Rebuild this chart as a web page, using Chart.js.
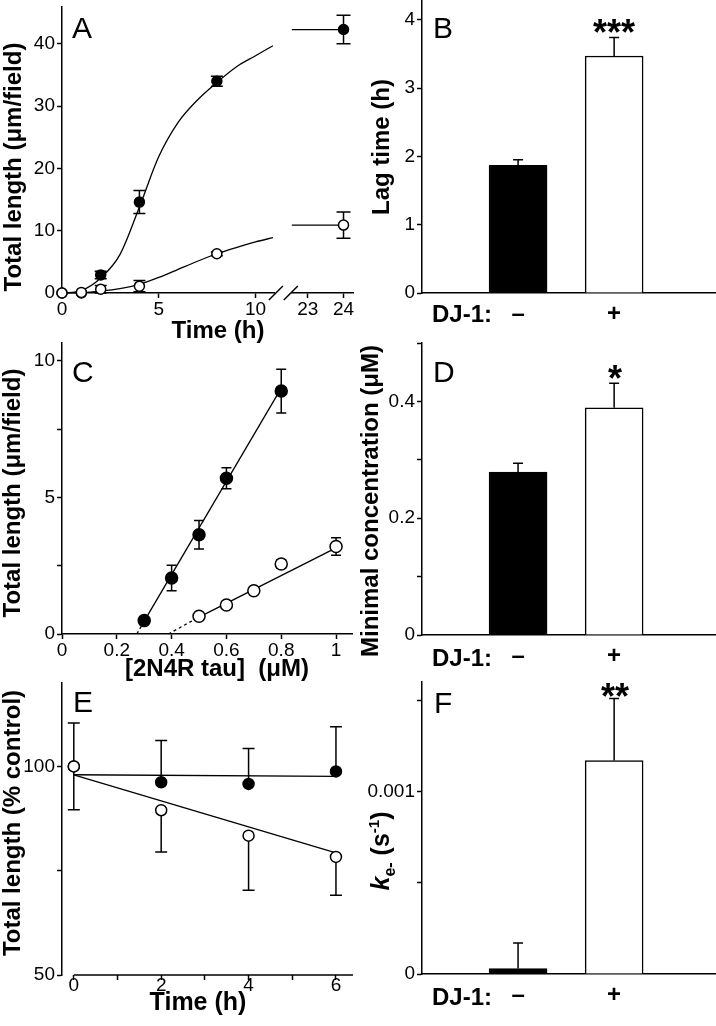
<!DOCTYPE html>
<html>
<head>
<meta charset="utf-8">
<script src="https://cdn.jsdelivr.net/npm/chart.js@4.4.0/dist/chart.umd.min.js"></script>
<style>
  html, body { margin: 0; padding: 0; background: #fff; }
  #page { position: relative; width: 716px; height: 1026px; overflow: hidden; background: #fff; }
  canvas { position: absolute; }
</style>
</head>
<body>
<div id="page">
  <canvas id="panelA" width="360" height="345" style="left:0px;top:0px"></canvas>
  <canvas id="panelB" width="356" height="345" style="left:360px;top:0px"></canvas>
  <canvas id="panelC" width="360" height="360" style="left:0px;top:330px"></canvas>
  <canvas id="panelD" width="356" height="360" style="left:360px;top:330px"></canvas>
  <canvas id="panelE" width="360" height="366" style="left:0px;top:660px"></canvas>
  <canvas id="panelF" width="356" height="366" style="left:360px;top:660px"></canvas>
</div>
<script>
// ---- A: polymerization time course (filled = no DJ-1, open = + DJ-1)
const timeA = [0, 1, 2, 4, 8];
const lenNoDJ = [0, 0, 2.9, 14.6, 34.0];
const errNoDJ = [0, 0, 0.6, 1.85, 0.8];
const lenDJ = [0, 0.1, 0.6, 1.1, 6.3];
const errDJ = [0, 0, 0.6, 0.9, 0.3];
const timeLate = [24];
const lenNoDJLate = [42.3];
const errNoDJLate = [2.3];
const lenDJLate = [10.9];
const errDJLate = [2.1];
// fitted curves
const fitTimeA = [0, 1, 2, 3, 4, 5, 6, 7, 8, 9, 10, 10.9];
const fitNoDJ = [0, 0.4, 2.4, 6.2, 13.8, 21.9, 27.4, 31.0, 33.8, 36.3, 38.1, 39.7];
const fitDJ = [0, 0.05, 0.3, 0.7, 1.4, 2.5, 3.8, 5.1, 6.3, 7.3, 8.2, 8.9];
const fitTimeLate = [22.55, 24];
const fitNoDJLate = [42.3, 42.3];
const fitDJLate = [10.9, 10.9];

// ---- B, D, F: bar pairs (DJ-1 - / +)
const barPos = [1, 2];
const djSigns = ['–', '+'];
const lagTime = [1.87, 3.47];
const lagErr = [0.08, 0.27];
const minConc = [0.279, 0.389];
const minConcErr = [0.015, 0.042];
const kOff = [0.00003, 0.00117];
const kOffErr = [0.00014, 0.00034];

// ---- C: length vs tau concentration
const tauNoDJ = [0.3, 0.4, 0.5, 0.6, 0.8];
const lenTauNoDJ = [0.49, 2.05, 3.63, 5.70, 8.89];
const errTauNoDJ = [0, 0.47, 0.52, 0.38, 0.8];
const tauDJ = [0.5, 0.6, 0.7, 0.8, 1.0];
const lenTauDJ = [0.65, 1.06, 1.58, 2.56, 3.2];
const errTauDJ = [0, 0, 0.1, 0.15, 0.32];
const fitTauNoDJ = [0.273, 0.3, 0.8];
const fitLenTauNoDJ = [0, 0.47, 9.0];
const fitTauDJ = [0.388, 0.5, 1.0];
const fitLenTauDJ = [0, 0.62, 3.15];

// ---- E: depolymerization (% control)
const timeE = [0, 2, 4, 6];
const pctNoDJ = [100, 96.2, 95.8, 98.8];
const pctNoDJErr = [10.4, 10.0, 8.5, 10.7];
const pctDJ = [100, 89.5, 83.4, 78.3];
const pctDJErr = [10.4, 10.0, 13.1, 9.2];
const fitTimeE = [0, 6];
const fitPctNoDJ = [98.0, 97.6];
const fitPctDJ = [98.0, 79.3];

// ---- tick values
const ticksAy = [0, 10, 20, 30, 40];
const ticksAx = [0, 5, 10];
const ticksAx2 = [23, 24];
const ticksBy = [0, 1, 2, 3, 4];
const ticksCx = [0, 0.2, 0.4, 0.6, 0.8, 1];
const ticksCy = [0, 2.5, 5, 7.5, 10];
const labelsCy = [0, 5, 10];
const ticksDy = [0, 0.1, 0.2, 0.3, 0.4, 0.5];
const labelsDy = [0, 0.2, 0.4];
const ticksEx = [0, 1, 2, 3, 4, 5, 6];
const labelsEx = [0, 2, 4, 6];
const ticksEy = [50, 75, 100];
const labelsEy = [50, 100];
const ticksFy = [0, 0.0005, 0.001, 0.0015];
const labelsFy = [0, 0.001];

const FAMILY = "'Liberation Sans', Arial, Helvetica, sans-serif";
Chart.defaults.font.family = FAMILY;
Chart.defaults.color = '#000';
const BLACK = '#000';
const F_TITLE = 'bold 24px ' + FAMILY;
const F_LETTER = '30px ' + FAMILY;
const F_STAR = 'bold 36px ' + FAMILY;

const toXY = (xs, ys) => xs.map((x, i) => ({ x: x, y: ys[i] }));

function zeroPad(s) { s.paddingLeft = 0; s.paddingRight = 0; s.paddingTop = 0; s.paddingBottom = 0; }

function yAxis(min, max, ticks, labeled) {
  return {
    type: 'linear', position: 'left', min: min, max: max,
    afterBuildTicks: s => { s.ticks = ticks.map(v => ({ value: v })); },
    afterFit: s => { s.width = 62; zeroPad(s); },
    ticks: { autoSkip: false, padding: 2, font: { size: 19 }, callback: v => labeled.includes(v) ? String(v) : '' },
    grid: { drawOnChartArea: false, tickLength: 5, tickWidth: 1.5, tickColor: BLACK },
    border: { color: BLACK, width: 1.5 }
  };
}

function xAxis(min, max, ticks, labeled, height, pad, extra) {
  return Object.assign({
    type: 'linear', position: 'bottom', min: min, max: max,
    afterBuildTicks: s => { s.ticks = ticks.map(v => ({ value: v })); },
    afterFit: s => { s.height = height; zeroPad(s); },
    ticks: { autoSkip: false, padding: pad, maxRotation: 0, font: { size: 19 }, callback: v => labeled.includes(v) ? String(v) : '' },
    grid: { drawOnChartArea: false, tickLength: 5, tickWidth: 1.5, tickColor: BLACK },
    border: { color: BLACK, width: 1.5 }
  }, extra || {});
}

function djAxis(height) {
  return {
    type: 'linear', position: 'bottom', min: 0, max: 3.05, offset: false,
    afterBuildTicks: s => { s.ticks = barPos.map(v => ({ value: v })); },
    afterFit: s => { s.height = height; zeroPad(s); },
    ticks: { autoSkip: false, padding: 7, maxRotation: 0, font: { size: 24, weight: 'bold' }, callback: (v, i) => djSigns[i] },
    grid: { display: false, drawTicks: false, offset: false },
    border: { color: BLACK, width: 1.5 }
  };
}

function pointSet(xs, ys, open, r, extra) {
  return Object.assign({
    data: toXY(xs, ys),
    pointRadius: r, pointHoverRadius: r,
    pointBackgroundColor: open ? '#fff' : BLACK,
    pointBorderColor: BLACK, pointBorderWidth: 1.5,
    showLine: false, clip: false,
    order: open ? 0 : 1
  }, extra || {});
}

function fitSet(xs, ys, extra) {
  return Object.assign({
    data: toXY(xs, ys), showLine: true,
    borderColor: BLACK, borderWidth: 1.3,
    pointRadius: 0, pointHoverRadius: 0, clip: false, order: 2
  }, extra || {});
}

function barSet(values, errs) {
  return {
    data: toXY(barPos, values),
    backgroundColor: [BLACK, '#fff'], borderColor: BLACK, borderWidth: 1.5,
    barThickness: 58, errUp: errs, errCap: 5
  };
}

// error bars drawn under the markers
const errorBars = {
  id: 'errorBars',
  beforeDatasetsDraw(chart) {
    const ctx = chart.ctx;
    chart.data.datasets.forEach((ds, i) => {
      if (!ds.errUp && !ds.errDown) return;
      const meta = chart.getDatasetMeta(i);
      const ys = chart.scales[meta.yAxisID];
      const cap = ds.errCap || 6;
      ctx.save();
      ctx.strokeStyle = BLACK;
      ctx.lineWidth = 1.5;
      meta.data.forEach((el, j) => {
        const v = meta.controller.getParsed(j).y;
        [[ds.errUp, 1], [ds.errDown, -1]].forEach(([arr, sgn]) => {
          if (!arr || !arr[j]) return;
          const y0 = ys.getPixelForValue(v);
          const y1 = ys.getPixelForValue(v + sgn * arr[j]);
          ctx.beginPath();
          ctx.moveTo(el.x, y0); ctx.lineTo(el.x, y1);
          ctx.moveTo(el.x - cap, y1); ctx.lineTo(el.x + cap, y1);
          ctx.stroke();
        });
      });
      ctx.restore();
    });
  }
};

function makeNotes(items) {
  return {
    id: 'notes',
    afterDraw(chart) {
      const ctx = chart.ctx;
      items.forEach(n => {
        ctx.save();
        ctx.translate(n.x, n.y);
        if (n.rotate) ctx.rotate(-Math.PI / 2);
        ctx.fillStyle = BLACK;
        ctx.textBaseline = 'alphabetic';
        ctx.textAlign = 'left';
        const parts = n.parts || [{ text: n.text, font: n.font }];
        let total = 0;
        parts.forEach(p => { ctx.font = p.font; total += ctx.measureText(p.text).width; });
        let x = n.align === 'left' ? 0 : -total / 2;
        parts.forEach(p => {
          ctx.font = p.font;
          ctx.fillText(p.text, x, p.shift || 0);
          x += ctx.measureText(p.text).width;
        });
        ctx.restore();
      });
    }
  };
}

// axis break marks (A) and an x axis line that starts at a value (E)
function makeDeco(cfg) {
  return {
    id: 'axisDeco',
    afterDraw(chart) {
      const ctx = chart.ctx;
      ctx.save();
      ctx.strokeStyle = BLACK;
      ctx.lineWidth = 1.5;
      if (cfg.breakBetween) {
        const a = chart.scales[cfg.breakBetween[0]];
        const b = chart.scales[cfg.breakBetween[1]];
        const y = a.top;
        ctx.beginPath();
        [a.right + 1, b.left - 1].forEach(cx => { ctx.moveTo(cx - 7, y + 7); ctx.lineTo(cx + 7, y - 7); });
        ctx.stroke();
      }
      if (cfg.lineFrom !== undefined) {
        const s = chart.scales.x;
        ctx.beginPath();
        ctx.moveTo(s.getPixelForValue(cfg.lineFrom), s.top);
        ctx.lineTo(s.right, s.top);
        ctx.stroke();
      }
      ctx.restore();
    }
  };
}

function baseOptions(padding, scales) {
  return {
    responsive: false, animation: false, events: [],
    layout: { padding: padding },
    plugins: { legend: { display: false }, tooltip: { enabled: false } },
    scales: scales
  };
}

// ---------- Panel A
new Chart(document.getElementById('panelA'), {
  type: 'scatter',
  data: {
    datasets: [
      pointSet(timeA, lenDJ, true, 5, { errUp: errDJ, errDown: errDJ, errCap: 6 }),
      pointSet(timeA, lenNoDJ, false, 5, { errUp: errNoDJ, errDown: errNoDJ, errCap: 6 }),
      pointSet(timeLate, lenDJLate, true, 5, { xAxisID: 'x2', errUp: errDJLate, errDown: errDJLate, errCap: 7 }),
      pointSet(timeLate, lenNoDJLate, false, 5, { xAxisID: 'x2', errUp: errNoDJLate, errDown: errNoDJLate, errCap: 7 }),
      fitSet(fitTimeA, fitNoDJ, { cubicInterpolationMode: 'monotone' }),
      fitSet(fitTimeA, fitDJ, { cubicInterpolationMode: 'monotone' }),
      fitSet(fitTimeLate, fitNoDJLate, { xAxisID: 'x2' }),
      fitSet(fitTimeLate, fitDJLate, { xAxisID: 'x2' })
    ]
  },
  options: baseOptions({ top: 0, right: 5, left: 0, bottom: 0 }, {
    x: xAxis(0, 11, ticksAx, ticksAx, 52, 0, { stack: 'time', stackWeight: 214 }),
    xGap: {
      type: 'linear', position: 'bottom', min: 0, max: 1, stack: 'time', stackWeight: 17,
      ticks: { display: false }, grid: { display: false, drawTicks: false }, border: { display: false },
      afterFit: s => { s.height = 52; zeroPad(s); }
    },
    x2: xAxis(22.55, 24.28, ticksAx2, ticksAx2, 52, 0, { stack: 'time', stackWeight: 62 }),
    y: yAxis(0, 46, ticksAy, ticksAy)
  }),
  plugins: [errorBars, makeDeco({ breakBetween: ['x', 'x2'] }), makeNotes([
    { text: 'A', font: F_LETTER, x: 72, y: 38, align: 'left' },
    { text: 'Time (h)', font: F_TITLE, x: 218, y: 338 },
    { text: 'Total length (μm/field)', font: F_TITLE, x: 20.5, y: 167, rotate: true }
  ])]
});

// ---------- Panel B
new Chart(document.getElementById('panelB'), {
  type: 'bar',
  data: { datasets: [barSet(lagTime, lagErr)] },
  options: baseOptions({ top: 0, right: 1, left: 0, bottom: 0 }, {
    x: djAxis(52),
    y: yAxis(0, 4.29, ticksBy, ticksBy)
  }),
  plugins: [errorBars, makeNotes([
    { text: 'B', font: F_LETTER, x: 73, y: 38, align: 'left' },
    { text: '***', font: F_STAR, x: 254, y: 44.5 },
    { text: 'DJ-1:', font: F_TITLE, x: 72, y: 322, align: 'left' },
    { text: 'Lag time (h)', font: F_TITLE, x: 29, y: 147, rotate: true }
  ])]
});

// ---------- Panel C
new Chart(document.getElementById('panelC'), {
  type: 'scatter',
  data: {
    datasets: [
      pointSet(tauDJ, lenTauDJ, true, 6, { errUp: errTauDJ, errDown: errTauDJ, errCap: 5 }),
      pointSet(tauNoDJ, lenTauNoDJ, false, 6, { errUp: errTauNoDJ, errDown: errTauNoDJ, errCap: 5 }),
      fitSet(fitTauNoDJ, fitLenTauNoDJ, { segment: { borderDash: c => c.p0DataIndex === 0 ? [3, 3] : undefined } }),
      fitSet(fitTauDJ, fitLenTauDJ, { segment: { borderDash: c => c.p0DataIndex === 0 ? [3, 3] : undefined } })
    ]
  },
  options: baseOptions({ top: 13, right: 7, left: 0, bottom: 0 }, {
    x: xAxis(0, 1.06, ticksCx, ticksCx, 56, 0),
    y: yAxis(0, 10.65, ticksCy, labelsCy)
  }),
  plugins: [errorBars, makeNotes([
    { text: 'C', font: F_LETTER, x: 72, y: 52, align: 'left' },
    { text: '[2N4R tau]  (μM)', font: F_TITLE, x: 217, y: 346 },
    { text: 'Total length (μm/field)', font: F_TITLE, x: 20, y: 163, rotate: true }
  ])]
});

// ---------- Panel D
new Chart(document.getElementById('panelD'), {
  type: 'bar',
  data: { datasets: [barSet(minConc, minConcErr)] },
  options: baseOptions({ top: 13, right: 1, left: 0, bottom: 0 }, {
    x: djAxis(55),
    y: yAxis(0, 0.5, ticksDy, labelsDy)
  }),
  plugins: [errorBars, makeNotes([
    { text: 'D', font: F_LETTER, x: 73, y: 52, align: 'left' },
    { text: '*', font: F_STAR, x: 255, y: 60.5 },
    { text: 'DJ-1:', font: F_TITLE, x: 72, y: 336, align: 'left' },
    { text: 'Minimal concentration (μM)', font: F_TITLE, x: 18, y: 171, rotate: true }
  ])]
});

// ---------- Panel E
const axisEx = xAxis(-0.27, 6.39, ticksEx, labelsEx, 51, -6);
axisEx.border = { display: false };
new Chart(document.getElementById('panelE'), {
  type: 'scatter',
  data: {
    datasets: [
      pointSet(timeE, pctDJ, true, 5.5, { errDown: pctDJErr, errCap: 6 }),
      pointSet(timeE, pctNoDJ, false, 5.5, { errUp: pctNoDJErr, errCap: 6 }),
      fitSet(fitTimeE, fitPctNoDJ),
      fitSet(fitTimeE, fitPctDJ)
    ]
  },
  options: baseOptions({ top: 23, right: 5, left: 0, bottom: 0 }, {
    x: axisEx,
    y: yAxis(50, 120, ticksEy, labelsEy)
  }),
  plugins: [errorBars, makeDeco({ lineFrom: 0 }), makeNotes([
    { text: 'E', font: F_LETTER, x: 73, y: 52, align: 'left' },
    { text: 'Time (h)', font: 'bold 25px ' + FAMILY, x: 198, y: 350 },
    { text: 'Total length (% control)', font: F_TITLE, x: 20, y: 823 - 660, rotate: true }
  ])]
});

// ---------- Panel F
new Chart(document.getElementById('panelF'), {
  type: 'bar',
  data: { datasets: [barSet(kOff, kOffErr)] },
  options: baseOptions({ top: 22, right: 1, left: 0, bottom: 0 }, {
    x: djAxis(52),
    y: yAxis(0, 0.0016, ticksFy, labelsFy)
  }),
  plugins: [errorBars, makeNotes([
    { text: 'F', font: F_LETTER, x: 74, y: 53, align: 'left' },
    { text: '**', font: F_STAR, x: 255, y: 48.5 },
    { text: 'DJ-1:', font: F_TITLE, x: 72, y: 345, align: 'left' },
    { x: 29, y: 191, rotate: true, parts: [
      { text: 'k', font: 'italic bold 25px ' + FAMILY },
      { text: 'e-', font: 'bold 16px ' + FAMILY, shift: 6 },
      { text: ' (s', font: 'bold 25px ' + FAMILY },
      { text: '-1', font: 'bold 15px ' + FAMILY, shift: -10 },
      { text: ')', font: 'bold 25px ' + FAMILY }
    ] }
  ])]
});
</script>
</body>
</html>
